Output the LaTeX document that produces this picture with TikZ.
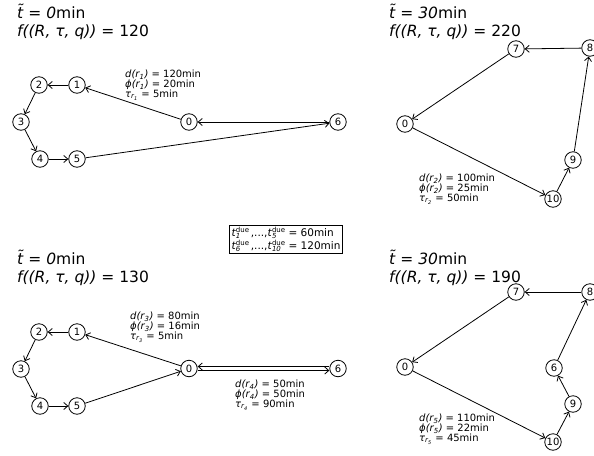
\documentclass[tikz,border=0pt]{standalone}
\usepackage{fontspec}
\setmainfont{DejaVu Sans}
\usetikzlibrary{arrows.meta}
\newcommand{\rlab}[4]{\textit{d(r\textsubscript{#1})} = #2min\\\textit{ϕ(r\textsubscript{#1})} = #3min\\\textit{τ\textsubscript{r\textsubscript{#1}}} = #4min}
\newcommand{\scr}[1]{{\fontsize{7}{7}\selectfont #1}}
\newcommand{\tdue}[1]{\textit{t}\rlap{\raisebox{-2.5pt}{\scr{\textit{#1}}}}\raisebox{3.5pt}{\scr{due}}}
\tikzset{
  vtx/.style={circle,draw,line width=0.8pt,fill=white,inner sep=0pt,minimum size=16.5pt,font=\fontsize{10}{10}\selectfont},
  edge/.style={line width=0.8pt,-{Straight Barb[length=4pt,width=7pt]}},
  ttl/.style={anchor=base west,align=left,inner sep=0pt,font=\fontsize{15.5}{18}\selectfont},
  lab/.style={anchor=north west,align=left,inner sep=0pt,font=\fontsize{10}{9.8}\selectfont},
}
\begin{document}
\begin{tikzpicture}[x=1pt,y=-1pt]
\useasboundingbox (0,0) rectangle (594,455);
% ---------- top left
\node[ttl] (ta) at (17,36) {\textit{t̃} = \textit{0}min\\\textit{f((R, τ, q))} = 120};
\node[vtx] (a0) at (189,122) {0};
\node[vtx] (a1) at (77,85) {1};
\node[vtx] (a2) at (39,85) {2};
\node[vtx] (a3) at (21,122) {3};
\node[vtx] (a4) at (40,159) {4};
\node[vtx] (a5) at (77,159) {5};
\node[vtx] (a6) at (338,122) {6};
\draw[edge] (a0) -- (a1);
\draw[edge] (a1) -- (a2);
\draw[edge] (a2) -- (a3);
\draw[edge] (a3) -- (a4);
\draw[edge] (a4) -- (a5);
\draw[edge] (a5) -- (a6);
\draw[edge] (a6) -- (a0);
\node[lab] (la) at (125,70) {\rlab{1}{120}{20}{5}};
% ---------- top right
\node[ttl] (tb) at (389,36) {\textit{t̃} = \textit{30}min\\\textit{f((R, τ, q))} = 220};
\node[vtx] (b0) at (405,124) {0};
\node[vtx] (b7) at (516,49) {7};
\node[vtx] (b8) at (590,48) {8};
\node[vtx] (b9) at (573,160) {9};
\node[vtx] (b10) at (553,199) {10};
\draw[edge] (b8) -- (b7);
\draw[edge] (b7) -- (b0);
\draw[edge] (b0) -- (b10);
\draw[edge] (b10) -- (b9);
\draw[edge] (b9) -- (b8);
\node[lab] (lb) at (419,174) {\rlab{2}{100}{25}{50}};
% ---------- box
\node[draw,line width=0.6pt,align=left,inner sep=2pt,font=\fontsize{10.5}{13}\selectfont] (due) at (286,239.5)
  {\tdue{1}\,,...,\tdue{5} = 60min\\\tdue{6}\,,...,\tdue{10} = 120min};
% ---------- bottom left
\node[ttl] (tc) at (17,282) {\textit{t̃} = \textit{0}min\\\textit{f((R, τ, q))} = 130};
\node[vtx] (c0) at (189,368.5) {0};
\node[vtx] (c1) at (77,332) {1};
\node[vtx] (c2) at (39,332) {2};
\node[vtx] (c3) at (21,369) {3};
\node[vtx] (c4) at (40,406) {4};
\node[vtx] (c5) at (77,406) {5};
\node[vtx] (c6) at (338,368.5) {6};
\draw[edge] (c0) -- (c1);
\draw[edge] (c1) -- (c2);
\draw[edge] (c2) -- (c3);
\draw[edge] (c3) -- (c4);
\draw[edge] (c4) -- (c5);
\draw[edge] (c5) -- (c0);
\draw[edge] ([yshift=2pt]c6.west) -- ([yshift=2pt]c0.east);
\draw[edge] ([yshift=-2pt]c0.east) -- ([yshift=-2pt]c6.west);
\node[lab] (lc) at (130,312) {\rlab{3}{80}{16}{5}};
\node[lab] (ld) at (235,380) {\rlab{4}{50}{50}{90}};
% ---------- bottom right
\node[ttl] (td) at (389,282) {\textit{t̃} = \textit{30}min\\\textit{f((R, τ, q))} = 190};
\node[vtx] (d0) at (405,367) {0};
\node[vtx] (d7) at (516,292) {7};
\node[vtx] (d8) at (590,292) {8};
\node[vtx] (d6) at (554,368) {6};
\node[vtx] (d9) at (573,404) {9};
\node[vtx] (d10) at (553,442) {10};
\draw[edge] (d8) -- (d7);
\draw[edge] (d7) -- (d0);
\draw[edge] (d0) -- (d10);
\draw[edge] (d10) -- (d9);
\draw[edge] (d9) -- (d6);
\draw[edge] (d6) -- (d8);
\node[lab] (le) at (419,414) {\rlab{5}{110}{22}{45}};
\end{tikzpicture}
\end{document}
